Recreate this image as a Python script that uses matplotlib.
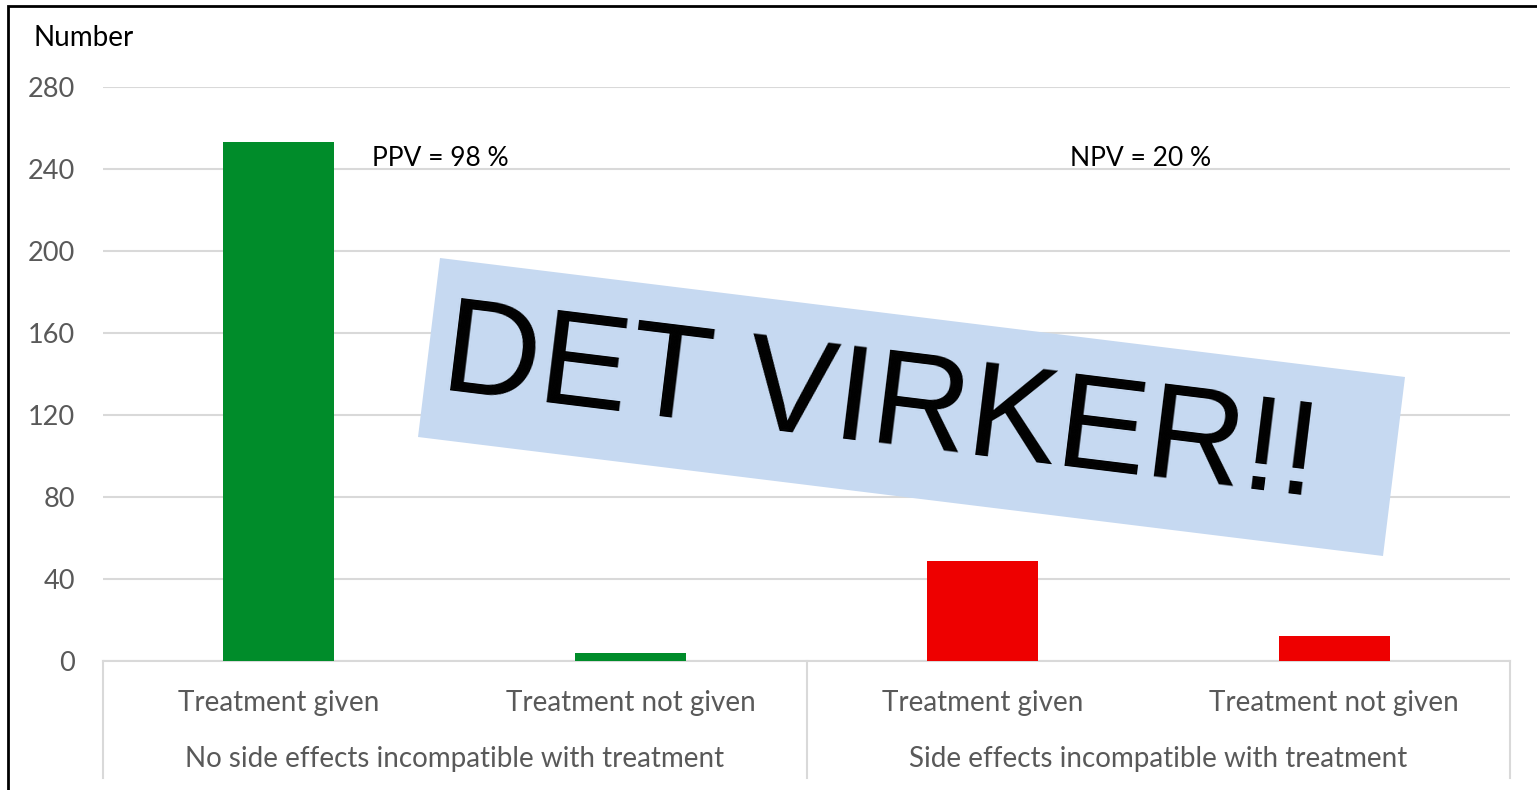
import matplotlib.pyplot as plt
from matplotlib.patches import Polygon, Rectangle

categories = ["Treatment given", "Treatment not given", "Treatment given", "Treatment not given"]
groups = ["No side effects incompatible with treatment", "Side effects incompatible with treatment"]
values = [253, 4, 49, 12]
colors = ["#008C2A", "#008C2A", "#EE0000", "#EE0000"]
yticks = [0, 40, 80, 120, 160, 200, 240, 280]
notes = ["PPV = 98 %", "NPV = 20 %"]

W, H = 1537, 790
plt.rcParams['font.family'] = ['Lato', 'DejaVu Sans']

fig = plt.figure(figsize=(W / 100, H / 100), dpi=100)
ax = fig.add_axes([103 / W, (H - 661) / H, (1510 - 103) / W, (661 - 87) / H])

x = range(len(values))
ax.bar(x, values, width=0.316, color=colors, zorder=3)

ax.set_xlim(-0.5, 3.5)
ax.set_ylim(0, 280)
ax.set_yticks(yticks)
ax.set_yticklabels([str(v) for v in yticks], fontsize=19.5, color="#595959")
ax.set_xticks(list(x))
ax.set_xticklabels(categories, fontsize=20, color="#595959")
ax.tick_params(axis="y", length=0, pad=20)
ax.tick_params(axis="x", length=0, pad=21)
ax.grid(axis="y", color="#D9D9D9", linewidth=1.5, zorder=0)
for s in ["top", "right", "left"]:
    ax.spines[s].set_visible(False)
ax.spines["bottom"].set_color("#D9D9D9")
ax.spines["bottom"].set_linewidth(1.5)

# group separators and group labels
tr = ax.get_xaxis_transform()
for xs in [-0.5, 1.5, 3.5]:
    ax.plot([xs, xs], [0, -117 / 574], color="#D9D9D9", lw=1.5, transform=tr, clip_on=False)
for i, g in enumerate(groups):
    ax.text(2 * i + 0.5, -98 / 574, g, transform=tr, ha="center", va="center",
            fontsize=20, color="#595959")

# annotations
ax.text(0.265, 245, notes[0], fontsize=19, color="black", va="center", ha="left")
ax.text(2.25, 245, notes[1], fontsize=19, color="black", va="center", ha="left")

fig.text(33 / W, 1 - 38 / H, "Number", fontsize=20, color="black", va="center", ha="left")

# banner
banner = [(440, 258), (1405, 377), (1383, 556), (418, 437)]
fig.patches.append(Polygon([(px / W, 1 - py / H) for px, py in banner], closed=True,
                           facecolor="#C6D9F1", edgecolor="none",
                           transform=fig.transFigure, zorder=5))
fig.text(880 / W, 1 - 408 / H, "DET VIRKER!!", fontsize=97, family="Liberation Sans",
         rotation=-7, rotation_mode="anchor", ha="center", va="center", color="black", zorder=6)

# outer border
fig.patches.append(Rectangle((8 / W, -0.1), 1.1, 1 - 6 / H + 0.1, fill=False,
                             edgecolor="black", lw=2, transform=fig.transFigure))

fig.savefig("out.png", dpi=100)
